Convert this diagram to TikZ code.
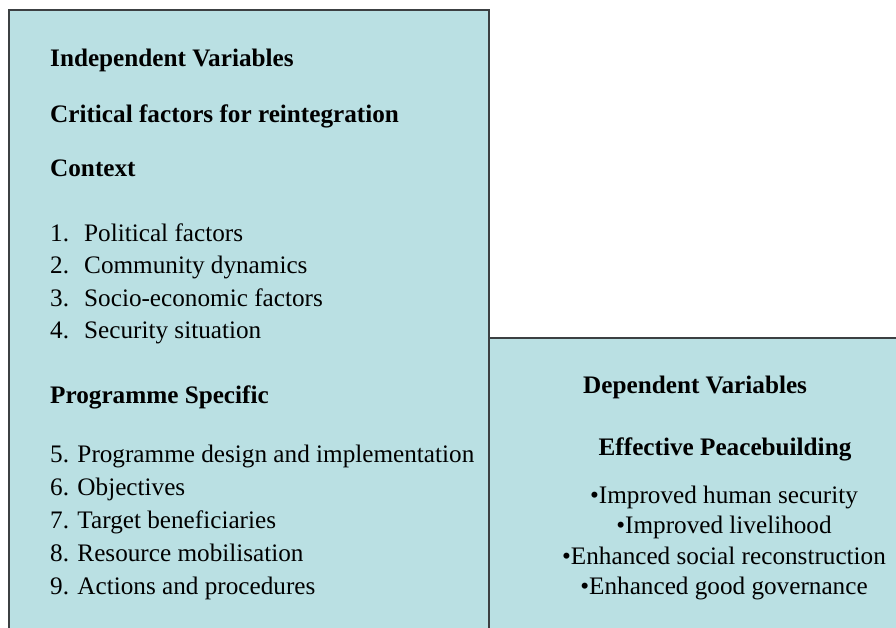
\documentclass[tikz,border=0pt]{standalone}
\usepackage{fontspec}
\setmainfont{Liberation Serif}
\definecolor{boxfill}{RGB}{186,224,227}
\definecolor{boxline}{RGB}{60,64,66}
\tikzset{
  panel/.style={fill=boxfill, draw=boxline, line width=1.5pt},
  head/.style={inner sep=0pt, anchor=base west, font=\fontsize{25.2}{30}\selectfont\bfseries},
  item/.style={inner sep=0pt, anchor=base west, font=\fontsize{25.2}{30}\selectfont},
  chead/.style={inner sep=0pt, anchor=base, font=\fontsize{25.2}{30}\selectfont\bfseries},
  citem/.style={inner sep=0pt, anchor=base, font=\fontsize{25.2}{30}\selectfont},
}
\begin{document}
\begin{tikzpicture}[x=1pt,y=-1pt]
\useasboundingbox (0,0) rectangle (896,627);
\clip (0,0) rectangle (896,627);
\draw[panel] (9,10) rectangle (489,660);
\draw[panel] (489,338) rectangle (920,660);
% left panel
\node[head] (indep) at (50,66) {Independent Variables};
\node[head] (crit) at (50,122) {Critical factors for reintegration};
\node[head] (ctx) at (50,176) {Context};
\node[item] (n1) at (50,241) {1.};
\node[item] (t1) at (84,241) {Political factors};
\node[item] (n2) at (50,273.5) {2.};
\node[item] (t2) at (84,273.5) {Community dynamics};
\node[item] (n3) at (50,306) {3.};
\node[item] (t3) at (84,306) {Socio-economic factors};
\node[item] (n4) at (50,338.5) {4.};
\node[item] (t4) at (84,338.5) {Security situation};
\node[head] (prog) at (50,403.5) {Programme Specific};
\node[item] (i5) at (50,462) {5. Programme design and implementation};
\node[item] (i6) at (50,495) {6. Objectives};
\node[item] (i7) at (50,528) {7. Target beneficiaries};
\node[item] (i8) at (50,561) {8. Resource mobilisation};
\node[item] (i9) at (50,594) {9. Actions and procedures};
% right panel
\node[head] (dep) at (583,393) {Dependent Variables};
\node[chead] (eff) at (725,455) {Effective Peacebuilding};
\node[citem] (b1) at (724,503) {•Improved human security};
\node[citem] (b2) at (724,533.5) {•Improved livelihood};
\node[citem] (b3) at (724,564) {•Enhanced social reconstruction};
\node[citem] (b4) at (724,594) {•Enhanced good governance};
\end{tikzpicture}
\end{document}
